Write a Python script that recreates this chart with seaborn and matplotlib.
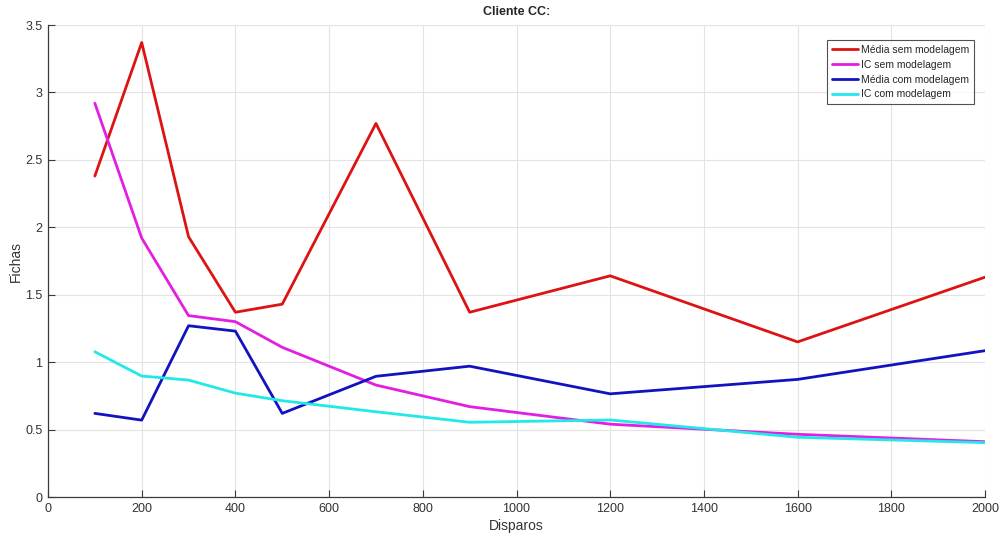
import matplotlib
matplotlib.use("Agg")
import matplotlib.pyplot as plt
import seaborn as sns
import pandas as pd

# Number of shots per test
disparos = [100, 200, 300, 400, 500, 700, 900, 1200, 1600, 2000]

# Mean and confidence interval, without and with modelling
media_sem = [2.38, 3.37, 1.93, 1.37, 1.43, 2.77, 1.37, 1.64, 1.15, 1.63]
ic_sem = [2.92, 1.92, 1.345, 1.30, 1.11, 0.83, 0.67, 0.54, 0.465, 0.41]
media_com = [0.62, 0.57, 1.27, 1.23, 0.62, 0.895, 0.97, 0.765, 0.872, 1.085]
ic_com = [1.077, 0.897, 0.867, 0.77, 0.714, 0.632, 0.554, 0.571, 0.443, 0.403]

series_names = ["Média sem modelagem", "IC sem modelagem",
                "Média com modelagem", "IC com modelagem"]
series_vals = [media_sem, ic_sem, media_com, ic_com]
colors = ["#dd1313", "#e21ee2", "#1212bf", "#22e8e8"]

df = pd.DataFrame({
    "Disparos": disparos * len(series_names),
    "Fichas": [v for vals in series_vals for v in vals],
    "Serie": [n for n in series_names for _ in disparos],
})

sns.set_style("whitegrid")
plt.rcParams["font.family"] = ["Liberation Sans", "DejaVu Sans"]

fig = plt.figure(figsize=(10.01, 5.37), dpi=100)
ax = fig.add_axes([48 / 1001, 1 - 497 / 537, (985 - 48) / 1001, (497 - 25) / 537])

sns.lineplot(data=df, x="Disparos", y="Fichas", hue="Serie",
             hue_order=series_names, palette=colors, linewidth=2,
             ax=ax, sort=False)

ax.set_xlim(0, 2000)
ax.set_ylim(0, 3.5)
ax.set_xticks(range(0, 2001, 200))
ax.set_yticks([0, 0.5, 1, 1.5, 2, 2.5, 3, 3.5])
ax.set_yticklabels(["0", "0.5", "1", "1.5", "2", "2.5", "3", "3.5"])

ax.grid(True, color="#e3e3e3", linewidth=0.8)
for side in ["top", "right"]:
    ax.spines[side].set_visible(False)
for side in ["left", "bottom"]:
    ax.spines[side].set_color("#3a3a3a")
    ax.spines[side].set_linewidth(0.9)

ax.tick_params(direction="in", length=5, width=0.8, color="#3a3a3a",
               labelsize=9, labelcolor="#333333",
               bottom=True, left=True, pad=4)

ax.set_title("Cliente CC:", fontsize=9, fontweight="bold", pad=7)
ax.set_xlabel("Disparos", fontsize=10, color="#333333", labelpad=3)
ax.set_ylabel("Fichas", fontsize=10, color="#333333", labelpad=2)

leg = ax.legend(loc="upper right", bbox_to_anchor=(0.988, 0.968),
                fontsize=7.5, frameon=True, fancybox=False,
                handlelength=2.5, handletextpad=0.3, borderpad=0.45,
                labelspacing=0.47, borderaxespad=0.0)
leg.get_frame().set_edgecolor("#262626")
leg.get_frame().set_linewidth(0.8)
for line in leg.get_lines():
    line.set_linewidth(2)

fig.savefig("out.png", dpi=100, facecolor="white")
